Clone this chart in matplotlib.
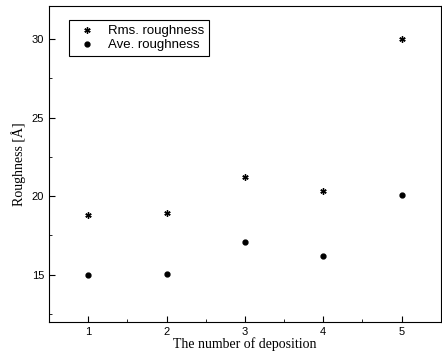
import matplotlib
matplotlib.use("Agg")
from matplotlib import pyplot as plt
from matplotlib.ticker import MultipleLocator

# Donnees
Deposition = [1, 2, 3, 4, 5]
RmsRoughness = [18.8, 18.9, 21.2, 20.3, 30.0]
AveRoughness = [15.0, 15.05, 17.1, 16.2, 20.1]

fig = plt.figure(figsize=(4.42, 3.56), dpi=100)
ax = fig.add_axes([0.111, 0.0955, 0.886, 0.888])

ax.plot(Deposition, RmsRoughness, linestyle='none', marker=(6, 2, 0), markersize=4.5,
        color='black', markeredgewidth=1.0, label='Rms. roughness')
ax.plot(Deposition, AveRoughness, linestyle='none', marker='o', markersize=3.5,
        color='black', label='Ave. roughness')

ax.set_xlim(0.5, 5.5)
ax.set_ylim(12, 32.1)
ax.xaxis.set_major_locator(MultipleLocator(1))
ax.xaxis.set_minor_locator(MultipleLocator(0.5))
ax.yaxis.set_major_locator(MultipleLocator(5))
ax.yaxis.set_minor_locator(MultipleLocator(2.5))
ax.tick_params(which='both', direction='in', labelsize=8, top=False, right=False)
ax.tick_params(which='major', length=4)
ax.tick_params(which='minor', length=2)
for lbl in ax.get_xticklabels() + ax.get_yticklabels():
    lbl.set_family('Liberation Sans')

ax.set_xlabel('The number of deposition', family='Liberation Serif', fontsize=10, labelpad=0)
ax.set_ylabel('Roughness [Å]', family='Liberation Serif', fontsize=10, labelpad=4)

leg = ax.legend(loc='upper left', bbox_to_anchor=(0.035, 0.975), prop={'family': 'Liberation Sans', 'size': 9.5},
                fancybox=False, edgecolor='black', framealpha=1, handletextpad=0.6,
                borderpad=0.35, labelspacing=0.15, handlelength=2.0)
leg.get_frame().set_linewidth(0.8)

plt.savefig('out.png', dpi=100)
